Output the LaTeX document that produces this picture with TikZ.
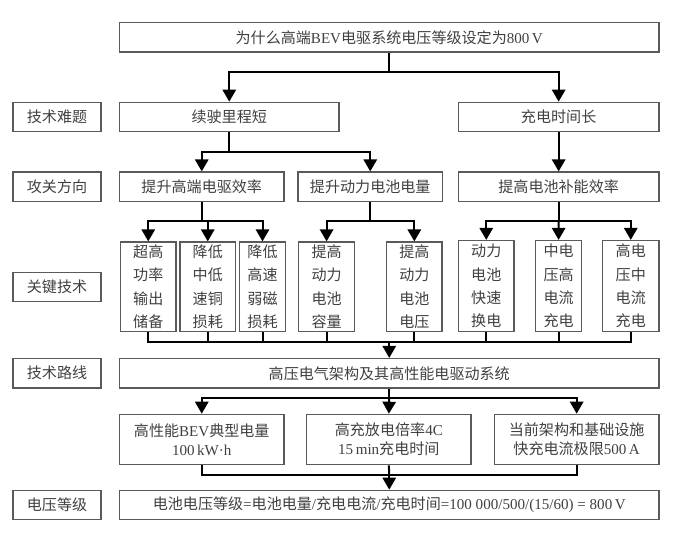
\documentclass[tikz,border=0pt]{standalone}
\usepackage{fontspec}
\setmainfont{Noto Sans CJK SC}
\newfontfamily\latinfont{Liberation Serif}
\newcommand{\en}[1]{{\latinfont #1}}
\usetikzlibrary{arrows.meta}
\definecolor{boxgray}{HTML}{5A5A5A}
\definecolor{textgray}{HTML}{404040}

\begin{document}
\begin{tikzpicture}
	[x=0.75pt, y=-0.75pt,
	block/.style ={rectangle, draw=boxgray, line width=0.9pt, text=textgray, inner sep=0pt, align=center, minimum height=22.1pt, font=\fontsize{11.3}{15}\selectfont},
	rowblock/.style ={block, minimum width=66pt},
	techblock/.style ={block, minimum height=67.3pt, font=\fontsize{11.3}{17.5}\selectfont},
	routeblock/.style ={block, minimum height=37.8pt, font=\fontsize{11.3}{14.5}\selectfont},
	trunk/.style ={black, line width=1.5pt},
	branch/.style ={trunk, -{Triangle[length=9pt,width=10pt]}}]
	\useasboundingbox (0,0) rectangle (682,553);

	\node [block, minimum width=404.6pt] (question) at (389.25,37.25) {为什么高端\en{BEV}电驱系统电压等级设定为\en{800\,V}};

	\node [rowblock] (difficulty) at (57,117) {技术难题};
	\node [rowblock] (direction) at (57,186.75) {攻关方向};
	\node [rowblock] (keytech) at (57,287) {关键技术};
	\node [rowblock] (techroute) at (57,373.25) {技术路线};
	\node [rowblock] (voltlevel) at (57,505) {电压等级};

	\node [block, minimum width=164.6pt] (shortrange) at (229.25,117) {续驶里程短};
	\node [block, minimum width=150.5pt] (longcharge) at (558.65,117) {充电时间长};

	\node [block, minimum width=123.4pt] (driveeff) at (201.75,186.75) {提升高端电驱效率};
	\node [block, minimum width=108.4pt] (batterycap) at (370.25,186.75) {提升动力电池电量};
	\node [block, minimum width=150.5pt] (refuelrate) at (558.65,186.75) {提高电池补能效率};

	\node [techblock, minimum width=41.6pt] (peakpower) at (148.25,286.85) {超高\\功率\\输出\\储备};
	\node [techblock, minimum width=41.6pt] (copperloss) at (207.75,286.85) {降低\\中低\\速铜\\损耗};
	\node [techblock, minimum width=34.5pt] (fieldloss) at (262.5,286.85) {降低\\高速\\弱磁\\损耗};
	\node [techblock, minimum width=42.2pt] (packcap) at (326.6,286.85) {提高\\动力\\电池\\容量};
	\node [techblock, minimum width=41.5pt] (packvolt) at (414.35,286.85) {提高\\动力\\电池\\电压};
	\node [techblock, minimum width=41.6pt, minimum height=68.4pt] (packswap) at (486.25,286.1) {动力\\电池\\快速\\换电};
	\node [techblock, minimum width=34.4pt, minimum height=68.4pt] (midvolt) at (558.6,286.1) {中电\\压高\\电流\\充电};
	\node [techblock, minimum width=42.4pt, minimum height=68.4pt] (highvolt) at (630.75,286.1) {高电\\压中\\电流\\充电};

	\node [block, minimum width=404.6pt] (hvsystem) at (389.25,373.25) {高压电气架构及其高性能电驱动系统};

	\node [routeblock, minimum width=123.4pt] (typicalcap) at (201.75,439.5) {高性能\en{BEV}典型电量\\\en{100\,kW·h}};
	\node [routeblock, minimum width=123.2pt] (chargetime) at (388.85,439.5) {高充放电倍率\en{4C}\\\en{15\,min}充电时间};
	\node [routeblock, minimum width=123.5pt] (currentlimit) at (576.65,439.5) {当前架构和基础设施\\快充电流极限\en{500\,A}};

	\node [block, minimum width=404.6pt] (formula) at (389.25,505) {电池电压等级\en{=}电池电量\en{/}充电电流\en{/}充电时间\en{=100 000/500/(15/60) = 800\,V}};

	\coordinate (questionjoin) at (389.25,72);
	\coordinate (rangejoin) at (229.25,151.7);
	\coordinate (drivejoin) at (201.75,221);
	\coordinate (batteryjoin) at (370.25,221);
	\coordinate (refueljoin) at (558.65,220.5);
	\coordinate (techjoin) at (389.25,341.7);
	\coordinate (systemjoin) at (389.25,398.3);
	\coordinate (routejoin) at (389.25,475.3);

	\draw [trunk] (question.south) -- (questionjoin);
	\draw [branch] (questionjoin) -| (shortrange.north);
	\draw [branch] (questionjoin) -| (longcharge.north);

	\draw [trunk] (shortrange.south) -- (rangejoin);
	\draw [branch] (rangejoin) -| (driveeff.north);
	\draw [branch] (rangejoin) -| (batterycap.north);
	\draw [branch] (longcharge.south) -- (refuelrate.north);

	\draw [trunk] (driveeff.south) -- (drivejoin);
	\draw [branch] (drivejoin) -| (peakpower.north);
	\draw [branch] (drivejoin) -| (copperloss.north);
	\draw [branch] (drivejoin) -| (fieldloss.north);

	\draw [trunk] (batterycap.south) -- (batteryjoin);
	\draw [branch] (batteryjoin) -| (packcap.north);
	\draw [branch] (batteryjoin) -| (packvolt.north);

	\draw [trunk] (refuelrate.south) -- (refueljoin);
	\draw [branch] (refueljoin) -| (packswap.north);
	\draw [branch] (refueljoin) -- (midvolt.north);
	\draw [branch] (refueljoin) -| (highvolt.north);

	\draw [trunk] (peakpower.south) |- (techjoin);
	\draw [trunk] (copperloss.south) |- (techjoin);
	\draw [trunk] (fieldloss.south) |- (techjoin);
	\draw [trunk] (packcap.south) |- (techjoin);
	\draw [trunk] (packvolt.south) |- (techjoin);
	\draw [trunk] (packswap.south) |- (techjoin);
	\draw [trunk] (midvolt.south) |- (techjoin);
	\draw [trunk] (highvolt.south) |- (techjoin);
	\draw [branch] (techjoin) -- (hvsystem.north);

	\draw [trunk] (hvsystem.south) -- (systemjoin);
	\draw [branch] (systemjoin) -| (typicalcap.north);
	\draw [branch] (systemjoin) -- (chargetime.north);
	\draw [branch] (systemjoin) -| (currentlimit.north);

	\draw [trunk] (typicalcap.south) |- (routejoin);
	\draw [trunk] (chargetime.south) -- (routejoin);
	\draw [trunk] (currentlimit.south) |- (routejoin);
	\draw [branch] (routejoin) -- (formula.north);
\end{tikzpicture}
\end{document}
